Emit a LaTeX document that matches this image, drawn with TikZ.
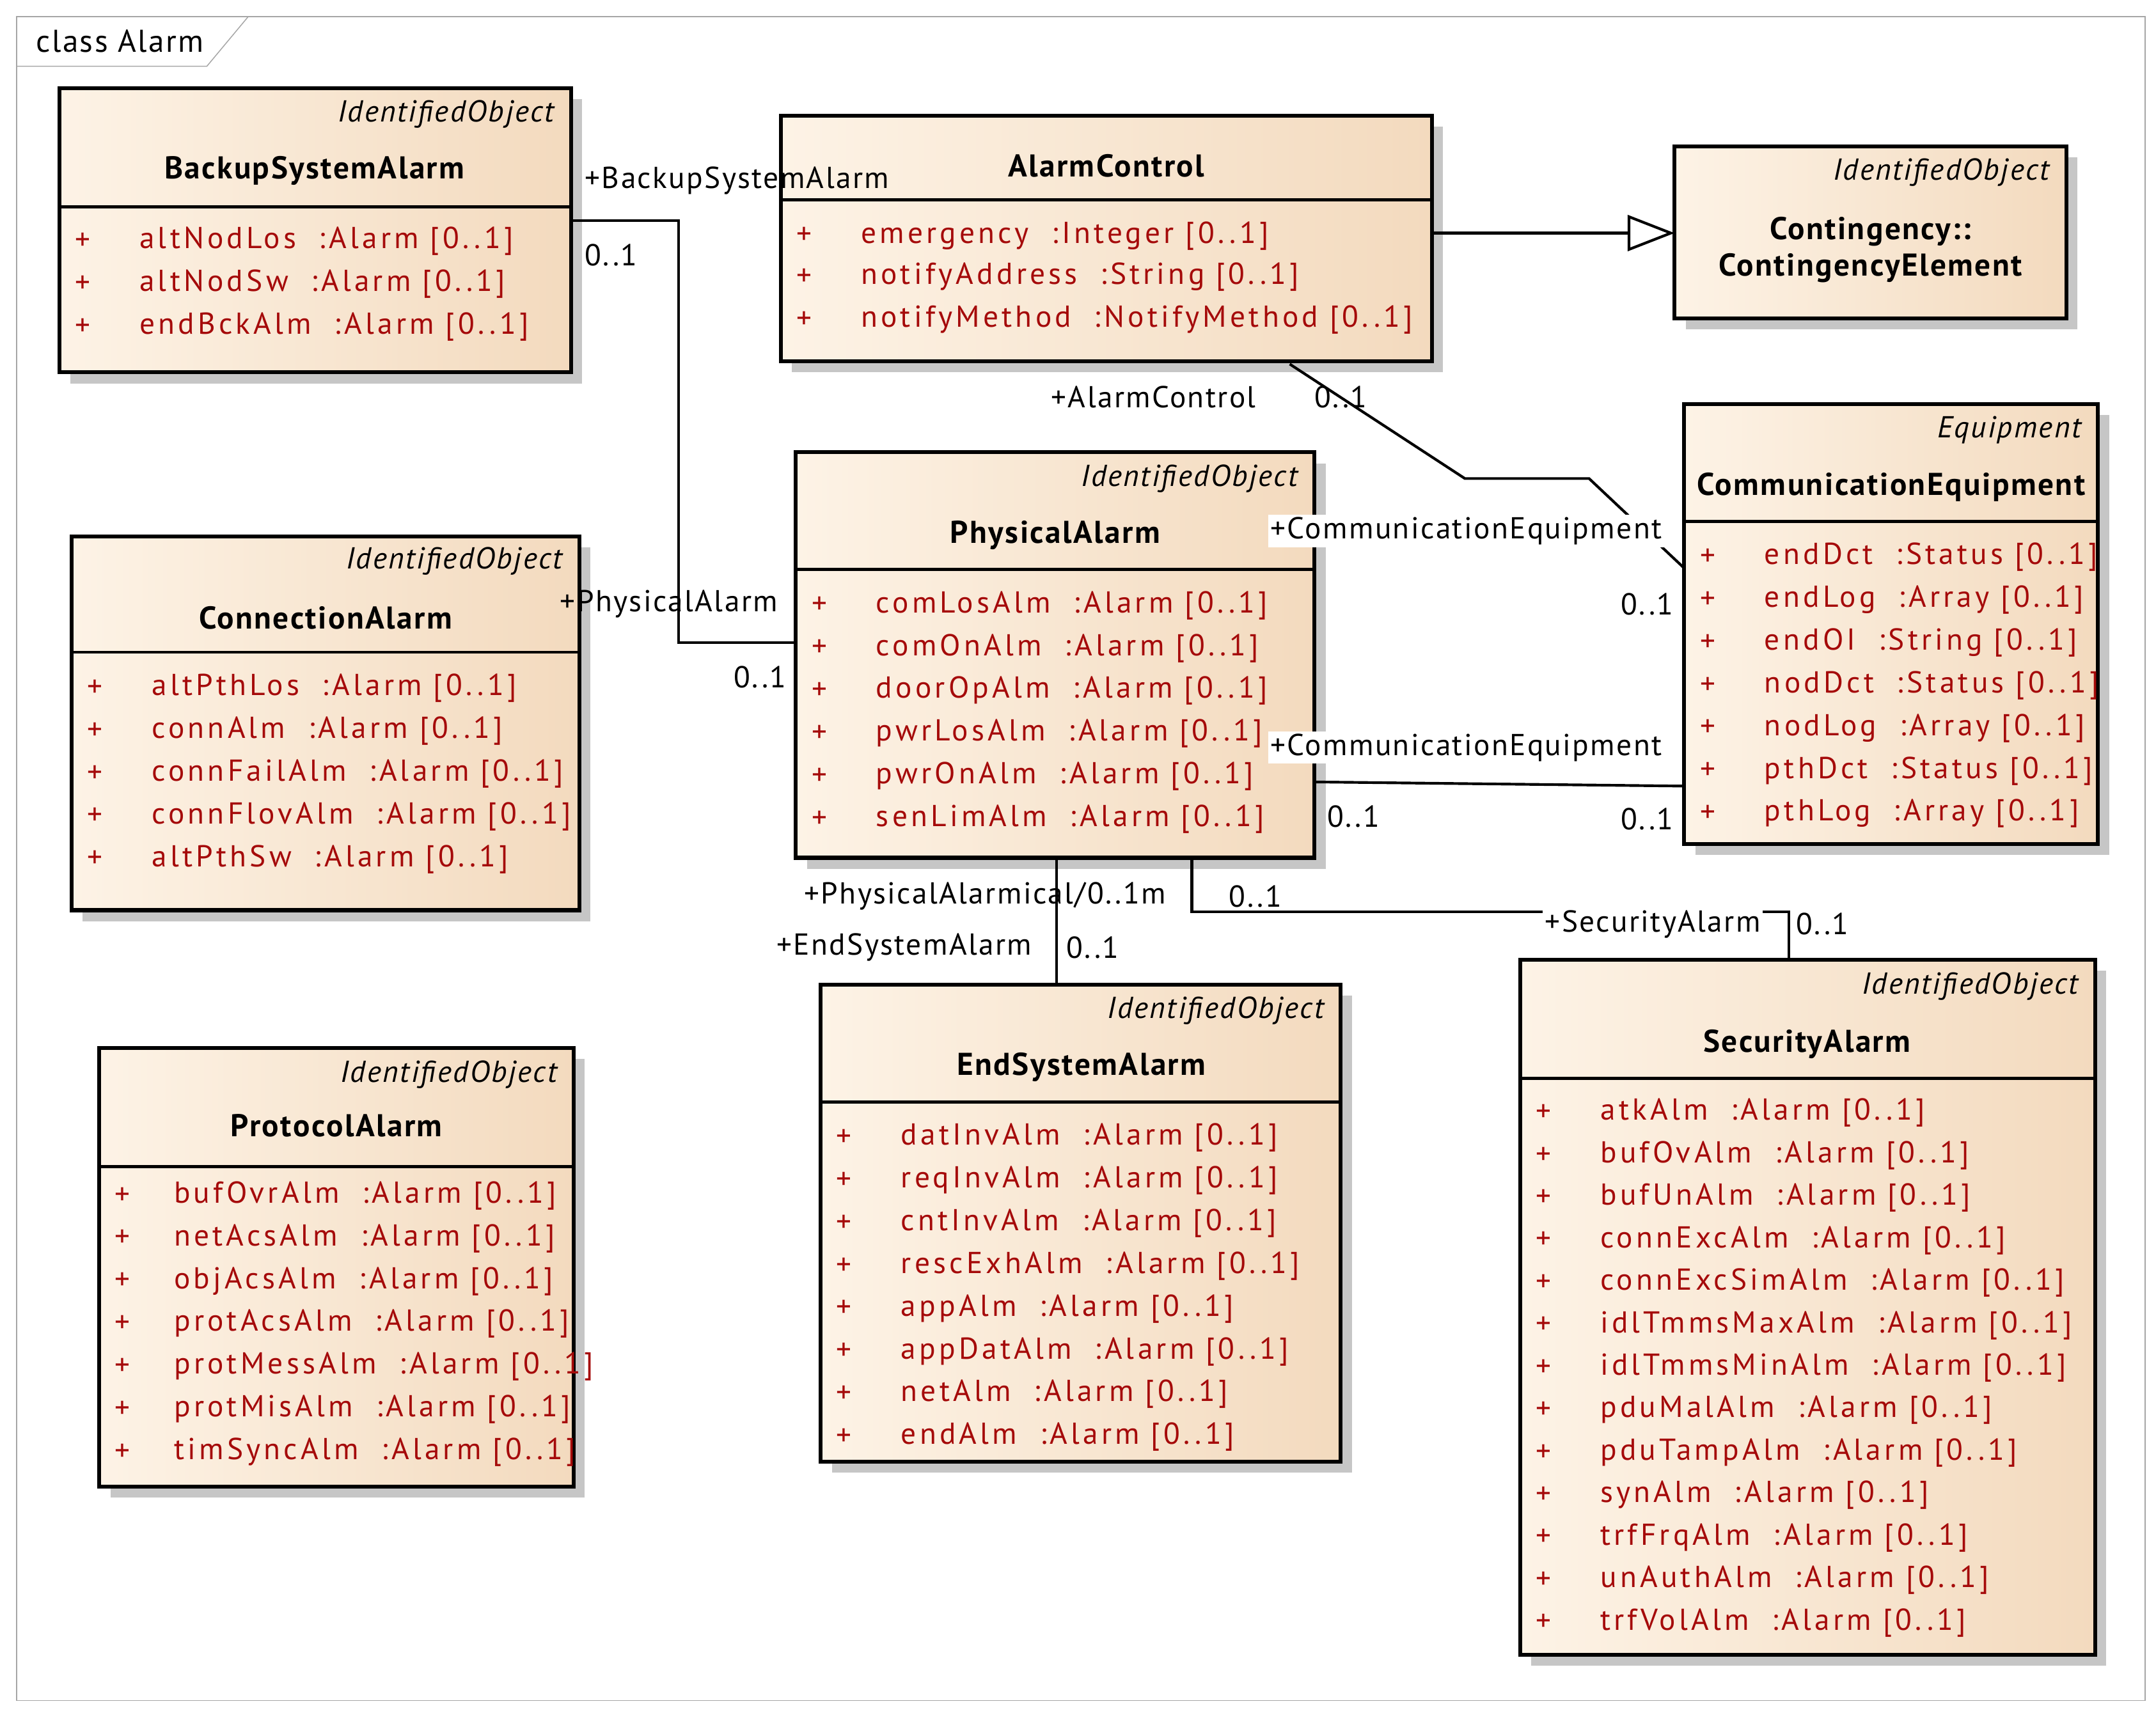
\documentclass[tikz,border=0pt]{standalone}
\usepackage{fontspec}
\setmainfont{PT Sans}
\newfontfamily\attrfont{PT Sans}[LetterSpace=11]
\newfontfamily\rolefont{PT Sans}[LetterSpace=5]
\usetikzlibrary{arrows.meta}
\definecolor{attrred}{RGB}{165,10,10}
\definecolor{boxleft}{RGB}{253,243,230}
\definecolor{boxright}{RGB}{243,218,190}
\newcommand{\umlbox}[5]{%
  \fill[gray!45] (#1+8,#2+8) rectangle (#3+8,#4+8);
  \shade[left color=boxleft,right color=boxright] (#1,#2) rectangle (#3,#4);
  \draw[line width=1.6pt] (#1,#2) rectangle (#3,#4);
  \draw[line width=1.2pt] (#1,#5) -- (#3,#5);}
\begin{document}
\begin{tikzpicture}[x=0.02cm,y=-0.02cm,font=\fontsize{12.5}{14}\selectfont]
\tikzset{
  stereo/.style={anchor=east,font=\fontsize{12.5}{14}\rolefont\selectfont\itshape},
  cname/.style={font=\fontsize{13}{15}\rolefont\selectfont\bfseries},
  attr/.style={anchor=west,text=attrred,font=\fontsize{12.5}{14}\attrfont\selectfont},
  plus/.style={text=attrred},
  role/.style={anchor=west,inner sep=1pt,font=\fontsize{12.5}{14}\rolefont\selectfont},
  assoc/.style={line width=1.1pt}
}
\useasboundingbox (0,0) rectangle (1563,1242);
% frame
\draw[gray!70] (12,12) rectangle (1555,1233);
\draw[gray!70] (12,48) -- (150,48) -- (180,12);
\node[anchor=west,font=\fontsize{13}{15}\rolefont\selectfont] (frame) at (20,30) {class Alarm};

% BackupSystemAlarm
\umlbox{43}{64}{414}{270}{150}
\node[stereo] (bsaS) at (408,83) {IdentifiedObject};
\node[cname] (bsa) at (228,124) {BackupSystemAlarm};
\foreach \y/\t in {175/altNodLos\ \ :Alarm [0..1],206/altNodSw\ \ :Alarm [0..1],237/endBckAlm\ \ :Alarm [0..1]}{
  \node[plus] at (60,\y) {+}; \node[attr] at (95,\y) {\t};}
\coordinate (bsaE) at (414,160);

% AlarmControl
\umlbox{566}{84}{1038}{262}{145}
\node[cname] (ac) at (802,120) {AlarmControl};
\foreach \y/\t in {171/emergency\ \ :Integer [0..1],201/notifyAddress\ \ :String [0..1],232/notifyMethod\ \ :NotifyMethod [0..1]}{
  \node[plus] at (583,\y) {+}; \node[attr] at (618,\y) {\t};}
\coordinate (acE) at (1038,169);
\coordinate (acS) at (935,264);

% Contingency
\umlbox{1214}{106}{1498}{231}{231}
\node[stereo] (ceS) at (1492,125) {IdentifiedObject};
\node[cname,align=center] (ce) at (1356,181) {Contingency::\\ContingencyElement};
\coordinate (ceW) at (1214,169);

% CommunicationEquipment
\umlbox{1221}{293}{1521}{612}{378}
\node[stereo] (cmS) at (1515,312) {Equipment};
\node[cname] (cm) at (1371,353) {CommunicationEquipment};
\foreach \t [count=\i from 0] in {endDct\ \ :Status [0..1],endLog\ \ :Array [0..1],endOI\ \ :String [0..1],nodDct\ \ :Status [0..1],nodLog\ \ :Array [0..1],pthDct\ \ :Status [0..1],pthLog\ \ :Array [0..1]}{
  \node[plus] at (1238,404+31*\i) {+}; \node[attr] at (1273,404+31*\i) {\t};}
\coordinate (cmA) at (1221,412);
\coordinate (cmB) at (1221,570);

% PhysicalAlarm
\umlbox{577}{328}{953}{622}{413}
\node[stereo] (paS) at (947,347) {IdentifiedObject};
\node[cname] (pa) at (765,388) {PhysicalAlarm};
\foreach \t [count=\i from 0] in {comLosAlm\ \ :Alarm [0..1],comOnAlm\ \ :Alarm [0..1],doorOpAlm\ \ :Alarm [0..1],pwrLosAlm\ \ :Alarm [0..1],pwrOnAlm\ \ :Alarm [0..1],senLimAlm\ \ :Alarm [0..1]}{
  \node[plus] at (594,439+31*\i) {+}; \node[attr] at (629,439+31*\i) {\t};}
\coordinate (paW) at (577,466);
\coordinate (paE) at (953,567);
\coordinate (paS1) at (766,622);
\coordinate (paS2) at (864,622);

% ConnectionAlarm
\umlbox{52}{389}{420}{660}{473}
\node[stereo] (caS) at (414,407) {IdentifiedObject};
\node[cname] (ca) at (236,448) {ConnectionAlarm};
\foreach \t [count=\i from 0] in {altPthLos\ \ :Alarm [0..1],connAlm\ \ :Alarm [0..1],connFailAlm\ \ :Alarm [0..1],connFlovAlm\ \ :Alarm [0..1],altPthSw\ \ :Alarm [0..1]}{
  \node[plus] at (69,499+31*\i) {+}; \node[attr] at (104,499+31*\i) {\t};}

% ProtocolAlarm
\umlbox{72}{760}{416}{1078}{846}
\node[stereo] (prS) at (410,779) {IdentifiedObject};
\node[cname] (pr) at (244,816) {ProtocolAlarm};
\foreach \t [count=\i from 0] in {bufOvrAlm\ \ :Alarm [0..1],netAcsAlm\ \ :Alarm [0..1],objAcsAlm\ \ :Alarm [0..1],protAcsAlm\ \ :Alarm [0..1],protMessAlm\ \ :Alarm [0..1],protMisAlm\ \ :Alarm [0..1],timSyncAlm\ \ :Alarm [0..1]}{
  \node[plus] at (89,867+31*\i) {+}; \node[attr] at (120,867+31*\i) {\t};}

% EndSystemAlarm
\umlbox{595}{714}{972}{1060}{799}
\node[stereo] (esS) at (966,733) {IdentifiedObject};
\node[cname] (es) at (784,774) {EndSystemAlarm};
\foreach \t [count=\i from 0] in {datInvAlm\ \ :Alarm [0..1],reqInvAlm\ \ :Alarm [0..1],cntInvAlm\ \ :Alarm [0..1],rescExhAlm\ \ :Alarm [0..1],appAlm\ \ :Alarm [0..1],appDatAlm\ \ :Alarm [0..1],netAlm\ \ :Alarm [0..1],endAlm\ \ :Alarm [0..1]}{
  \node[plus] at (612,825+31*\i) {+}; \node[attr] at (647,825+31*\i) {\t};}
\coordinate (esN) at (766,714);

% SecurityAlarm
\umlbox{1102}{696}{1519}{1200}{782}
\node[stereo] (saS) at (1513,715) {IdentifiedObject};
\node[cname] (sa) at (1310,757) {SecurityAlarm};
\foreach \t [count=\i from 0] in {atkAlm\ \ :Alarm [0..1],bufOvAlm\ \ :Alarm [0..1],bufUnAlm\ \ :Alarm [0..1],connExcAlm\ \ :Alarm [0..1],connExcSimAlm\ \ :Alarm [0..1],idlTmmsMaxAlm\ \ :Alarm [0..1],idlTmmsMinAlm\ \ :Alarm [0..1],pduMalAlm\ \ :Alarm [0..1],pduTampAlm\ \ :Alarm [0..1],synAlm\ \ :Alarm [0..1],trfFrqAlm\ \ :Alarm [0..1],unAuthAlm\ \ :Alarm [0..1],trfVolAlm\ \ :Alarm [0..1]}{
  \node[plus] at (1119,807+30.8*\i) {+}; \node[attr] at (1154,807+30.8*\i) {\t};}
\coordinate (saN) at (1297,696);

% connectors
\draw[line width=1.1pt,-{Triangle[open,length=34*0.02cm,width=26*0.02cm]}] (acE) -- (ceW);
\draw[assoc] (bsaE) -| (492,466) -- (paW);
\draw[assoc] (acS) -- (1062,347) -- (1152,347) -- (cmA);
\draw[assoc] (paE) -- (cmB);
\draw[assoc] (paS1) -- (esN);
\draw[assoc] (paS2) |- (1297,661) -- (saN);

% roles
\node[role] at (422,131) {+BackupSystemAlarm};
\node[role] at (422,185) {0..1};
\node[role] at (404,438) {+PhysicalAlarm};
\node[role] at (530,491) {0..1};
\node[role] at (760,288) {+AlarmControl};
\node[role] at (951,288) {0..1};
\node[role,fill=white] at (919,385) {+CommunicationEquipment};
\node[role] at (1173,438) {0..1};
\node[role,fill=white] at (919,542) {+CommunicationEquipment};
\node[role] at (960,592) {0..1};
\node[role] at (1173,594) {0..1};
\node[role] at (581,650) {+PhysicalAlarmical/0..1m};
\node[role] at (889,650) {0..1};
\node[role] at (561,687) {+EndSystemAlarm};
\node[role] at (771,687) {0..1};
\node[role,fill=white] at (1118,670) {+SecurityAlarm};
\node[role] at (1300,670) {0..1};
\end{tikzpicture}
\end{document}
